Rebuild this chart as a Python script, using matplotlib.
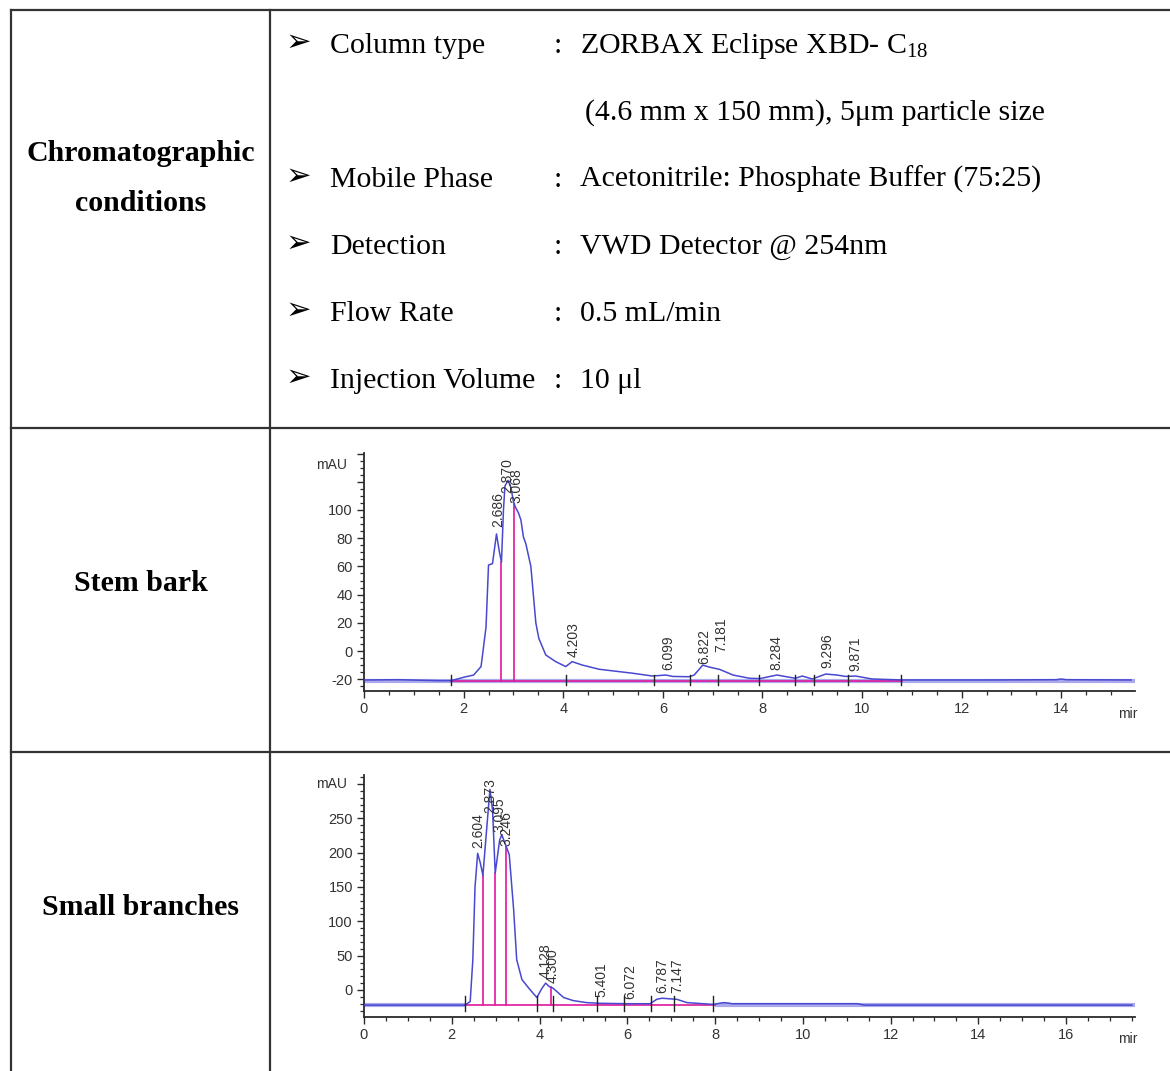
import numpy as np
import matplotlib
matplotlib.use("Agg")
import matplotlib.pyplot as plt
from matplotlib import font_manager
from matplotlib.ticker import FixedLocator, MultipleLocator

plt.rcParams['mathtext.fontset'] = 'custom'
plt.rcParams['mathtext.rm'] = 'Liberation Serif'
plt.rcParams['mathtext.default'] = 'regular'

# ---- table text ----
condLabels = ["Column type", "", "Mobile Phase", "Detection", "Flow Rate", "Injection Volume"]
condValues = ["ZORBAX Eclipse XBD- C$_{18}$", "(4.6 mm x 150 mm), 5\u03bcm particle size",
              "Acetonitrile: Phosphate Buffer (75:25)", "VWD Detector @ 254nm",
              "0.5 mL/min", "10 \u03bcl"]
rowTitles = ["Chromatographic\nconditions", "Stem bark", "Small branches"]

# ---- stem bark chromatogram (min, mAU) ----
stemTime = [0.0, 0.7, 1.5, 1.75, 2.0, 2.2, 2.35, 2.45, 2.5, 2.58, 2.66, 2.72, 2.76, 2.8, 2.83,
            2.89, 2.95, 3.0, 3.04, 3.1, 3.15, 3.2, 3.25, 3.35, 3.45, 3.51, 3.65, 3.85, 4.05,
            4.18, 4.38, 4.72, 5.39, 5.79, 6.06, 6.2, 6.53, 6.63, 6.8, 6.95, 7.14, 7.41, 7.74,
            7.95, 8.29, 8.66, 8.8, 9.0, 9.27, 9.5, 9.67, 9.87, 10.2, 10.8, 12.5, 13.9, 14.0,
            14.1, 15.4]
stemSignal = [-20.5, -20.3, -21, -21, -18.6, -17, -11, 17, 61, 62, 83, 70, 63, 100, 117,
              121, 116, 106, 102, 98, 93, 81, 76, 60, 20, 9, -2.8, -7.5, -11,
              -7.5, -9.9, -12.9, -15.7, -17.7, -17, -18, -18.2, -17, -10, -11.5, -13, -17, -19.3,
              -19.5, -17, -19.3, -17.7, -19.8, -16.3, -17, -18, -17.7, -19.8, -20.5, -20.5, -20.3, -19.8,
              -20.3, -20.5]
stemPeaks = ["2.686", "2.870", "3.068", "4.203", "6.099", "6.822", "7.181", "8.284", "9.296", "9.871"]
stemPeakTop = [88, 112, 105, -4, -13.4, -9, -0.4, -13.4, -12, -14]
stemDrops = [2.76, 3.02]
stemMarks = [1.75, 4.06, 5.83, 6.55, 7.1, 7.94, 8.66, 9.04, 9.72, 10.78]
stemBase = -21

# ---- small branches chromatogram (min, mAU) ----
branchTime = [0.0, 1.0, 2.30, 2.42, 2.48, 2.53, 2.59, 2.65, 2.71, 2.80, 2.87, 2.93, 2.99, 3.09,
              3.14, 3.24, 3.31, 3.41, 3.48, 3.60, 3.79, 3.94, 4.05, 4.14, 4.22, 4.30, 4.55, 4.77,
              5.07, 5.38, 6.0, 6.52, 6.67, 6.79, 7.13, 7.36, 7.96, 8.19, 8.3, 8.38, 9.5, 11.24,
              11.4, 17.5]
branchSignal = [-22, -22, -22, -17, 44, 150, 199, 185, 167, 238, 292, 262, 170, 218,
                226, 209, 197, 117, 44, 15, 0, -11, 2, 10, 5, 3, -11, -15.5,
                -18.4, -19.4, -20, -20, -13.6, -12, -13.6, -18.4, -21, -18.4, -19, -20, -20, -20,
                -22, -22]
branchPeaks = ["2.604", "2.873", "3.095", "3.246", "4.128", "4.300", "5.401", "6.072", "6.787", "7.147"]
branchPeakTop = [206, 257, 230, 209, 17, 10, -9.7, -13.6, -4.9, -4.9]
branchDrops = [2.71, 2.99, 3.24, 4.26]
branchMarks = [2.30, 3.94, 4.30, 5.32, 5.93, 6.54, 7.07, 7.95]
branchBase = -22

serif = ['Liberation Serif', 'DejaVu Serif']
names = {f.name for f in font_manager.fontManager.ttflist}
tickFont = 'Liberation Sans Narrow' if 'Liberation Sans Narrow' in names else 'Liberation Sans'
tickSize = 12 if tickFont == 'Liberation Sans Narrow' else 10.5

traceColor = '#4848d0'
lavender = '#a9a9ec'
magenta = '#e0189c'
gridColor = '#333333'

fig = plt.figure(figsize=(11.7, 10.71), dpi=100)

# overlay axes in pixel coords for the table
ax0 = fig.add_axes([0, 0, 1, 1])
ax0.set_xlim(0, 1170)
ax0.set_ylim(1071, 0)
ax0.axis('off')

lw = 1.6
ax0.plot([11, 1170], [9.5, 9.5], color=gridColor, lw=lw)
ax0.plot([11, 11], [9.5, 1071], color=gridColor, lw=lw)
ax0.plot([270, 270], [9.5, 1071], color=gridColor, lw=lw)
ax0.plot([11, 1170], [428, 428], color=gridColor, lw=lw)
ax0.plot([11, 1170], [752, 752], color=gridColor, lw=lw)

fs = 21.5
baselines = [53, 120, 187, 254, 321, 388]
for i in range(len(condValues)):
    y = baselines[i]
    if condLabels[i]:
        ax0.text(286, y - 2, "\u27a2", fontsize=22, family='DejaVu Sans', va='baseline', ha='left')
        ax0.text(330, y, condLabels[i], fontsize=fs, family=serif, va='baseline', ha='left')
        ax0.text(554, y, ":", fontsize=fs, family=serif, va='baseline', ha='left')
        ax0.text(580, y, condValues[i], fontsize=fs, family=serif, va='baseline', ha='left')
    else:
        ax0.text(585, y, condValues[i], fontsize=fs, family=serif, va='baseline', ha='left')

ax0.text(141, 161, "Chromatographic", fontsize=fs, family=serif, weight='bold', ha='center', va='baseline')
ax0.text(141, 211, "conditions", fontsize=fs, family=serif, weight='bold', ha='center', va='baseline')
ax0.text(141, 591, rowTitles[1], fontsize=fs, family=serif, weight='bold', ha='center', va='baseline')
ax0.text(141, 915, rowTitles[2], fontsize=fs, family=serif, weight='bold', ha='center', va='baseline')


def chromatogram(rect, t, s, base, xmax, ylo, yhi, ylabTop, ymajor, yminor, xlabMax,
                 peaks, peakTop, drops, marks, magSpan, lavSpans, markLen):
    ax = fig.add_axes(rect)
    ax.set_xlim(0, xmax)
    ax.set_ylim(ylo, yhi)
    for sp in ['top', 'right']:
        ax.spines[sp].set_visible(False)
    for sp in ['left', 'bottom']:
        ax.spines[sp].set_color('#2a2a2a')
        ax.spines[sp].set_linewidth(1.3)

    # baselines
    for a, b in lavSpans:
        ax.plot([a, b], [base, base], color=lavender, lw=3, solid_capstyle='butt', zorder=1)
    ax.plot(magSpan, [base, base], color=magenta, lw=1.2, zorder=2)
    ax.plot(t, s, color=traceColor, lw=1.1, zorder=3)
    for d in drops:
        ax.plot([d, d], [base, np.interp(d, t, s)], color=magenta, lw=1.2, zorder=2)
    for m in marks:
        ax.plot([m, m], [base - markLen * 0.4, base + markLen * 0.6], color='#222222', lw=1.0, zorder=4)

    for p, top in zip(peaks, peakTop):
        ax.text(float(p), top, p, rotation=90, ha='center', va='bottom', fontsize=10,
                family='Liberation Sans', color='#333333', clip_on=False)

    majors = list(np.arange(ymajor[0], ymajor[1] + 1, ymajor[2]))
    ax.yaxis.set_major_locator(FixedLocator(majors))
    ax.set_yticklabels([str(int(v)) if v <= ylabTop else "" for v in majors])
    ax.yaxis.set_minor_locator(MultipleLocator(yminor))
    ax.xaxis.set_major_locator(FixedLocator(list(range(0, xlabMax + 1, 2))))
    ax.xaxis.set_minor_locator(MultipleLocator(0.5))
    ax.tick_params(which='major', length=5, width=1.0, color='#2a2a2a', pad=3,
                   labelsize=tickSize, labelcolor='#333333')
    ax.tick_params(which='minor', length=3, width=0.9, color='#2a2a2a')
    for lab in ax.get_xticklabels() + ax.get_yticklabels():
        lab.set_family(tickFont)
    ax.set_zorder(2)
    ax.patch.set_alpha(0)
    return ax


# stem bark
chromatogram([364 / 1170, 1 - 690.7 / 1071, (1135 - 364) / 1170, (690.7 - 452.7) / 1071],
             stemTime, stemSignal, stemBase, 15.48, -28.1, 140.6, 100, (-20, 140, 20), 5, 14,
             stemPeaks, stemPeakTop, stemDrops, stemMarks, [1.75, 10.8], [(0, 15.48)], 7)

# small branches
chromatogram([364 / 1170, 1 - 1016.7 / 1071, (1135 - 364) / 1170, (1016.7 - 775) / 1071],
             branchTime, branchSignal, branchBase, 17.57, -38.9, 313, 250, (0, 300, 50), 10, 16,
             branchPeaks, branchPeakTop, branchDrops, branchMarks, [2.30, 8.0],
             [(0, 2.30), (8.0, 17.57)], 22)

# axis unit labels
for yy in [465, 784]:
    ax0.text(332, yy, "mAU", fontsize=tickSize - 0.5, family=tickFont, color='#333333', ha='center', va='center')
for yy in [714, 1039]:
    ax0.text(1128, yy, "mir", fontsize=tickSize - 0.5, family=tickFont, color='#333333', ha='center', va='center')

fig.savefig("out.png", dpi=100)
